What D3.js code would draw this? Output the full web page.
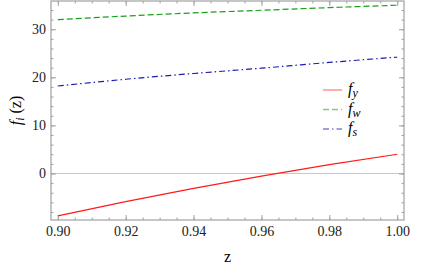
<!DOCTYPE html>
<html>
<head>
<meta charset="utf-8">
<script src="https://cdn.jsdelivr.net/npm/d3@7"></script>
<style>
  body { margin: 0; background: #fff; }
</style>
</head>
<body>
<div id="chart"></div>
<script>
// values
var zs = [0.90, 0.92, 0.94, 0.96, 0.98, 1.00];
var fy = [-8.8, -5.85, -3.1, -0.54, 1.83, 4.0];
var fw = [32.0, 32.75, 33.4, 33.95, 34.5, 35.0];
var fs = [18.2, 19.6, 20.8, 21.9, 23.1, 24.2];
var xTicks = [0.90, 0.92, 0.94, 0.96, 0.98, 1.00];
var yTicks = [0, 10, 20, 30];
var seriesNames = ["y", "w", "s"];

var serif = "Liberation Serif";

var width = 436, height = 273;
var margin = { top: 1, right: 32, bottom: 53, left: 51 };

var svg = d3.select("#chart").append("svg")
    .attr("width", width)
    .attr("height", height)
    .attr("font-family", serif);

var series = [
  { name: "y", vals: fy, color: "#ff1a1a", dash: null },
  { name: "w", vals: fw, color: "#1aa01a", dash: "6,3" },
  { name: "s", vals: fs, color: "#1a1ab4", dash: "6,3,1.5,3" }
];

// 2% padding like the original plot range
var xExt = d3.extent(zs);
var yExt = d3.extent(fy.concat(fw, fs));
var xPad = (xExt[1] - xExt[0]) * 0.02, yPad = (yExt[1] - yExt[0]) * 0.02;

var x = d3.scaleLinear()
    .domain([xExt[0] - xPad, xExt[1] + xPad])
    .range([margin.left, width - margin.right]);
var y = d3.scaleLinear()
    .domain([yExt[0] - yPad, yExt[1] + yPad])
    .range([height - margin.bottom, margin.top]);

var x0 = margin.left, x1 = width - margin.right;
var y0 = height - margin.bottom, y1 = margin.top;

// zero line
svg.append("line")
    .attr("x1", x0).attr("x2", x1)
    .attr("y1", y(0)).attr("y2", y(0))
    .style("stroke", "#c8c8c8")
    .style("stroke-width", 1);

var xMinor = d3.range(0.895, 1.0026, 0.005).filter(function(v){ return v > x.domain()[0]; });
var yMinor = d3.range(-8, 36, 2);

function styleAxis(g) {
  g.attr("font-family", serif).attr("font-size", 14);
  g.selectAll("line").style("stroke", "#a0a0a0");
  g.select(".domain").remove();
  g.selectAll("text").attr("fill", "#222");
}

// bottom
svg.append("g").attr("transform", "translate(0," + y0 + ")")
    .call(d3.axisBottom(x).tickValues(xMinor).tickSize(-2.5).tickFormat(""))
    .call(styleAxis);
svg.append("g").attr("transform", "translate(0," + y0 + ")")
    .call(d3.axisBottom(x).tickValues(xTicks).tickSize(-5).tickPadding(6).tickFormat(d3.format(".2f")))
    .call(styleAxis);
// top
svg.append("g").attr("transform", "translate(0," + y1 + ")")
    .call(d3.axisTop(x).tickValues(xMinor).tickSize(-2.5).tickFormat(""))
    .call(styleAxis);
svg.append("g").attr("transform", "translate(0," + y1 + ")")
    .call(d3.axisTop(x).tickValues(xTicks).tickSize(-5).tickFormat(""))
    .call(styleAxis);
// left
svg.append("g").attr("transform", "translate(" + x0 + ",0)")
    .call(d3.axisLeft(y).tickValues(yMinor).tickSize(-2.5).tickFormat(""))
    .call(styleAxis);
svg.append("g").attr("transform", "translate(" + x0 + ",0)")
    .call(d3.axisLeft(y).tickValues(yTicks).tickSize(-5).tickPadding(5).tickFormat(d3.format("d")))
    .call(styleAxis);
// right
svg.append("g").attr("transform", "translate(" + x1 + ",0)")
    .call(d3.axisRight(y).tickValues(yMinor).tickSize(-2.5).tickFormat(""))
    .call(styleAxis);
svg.append("g").attr("transform", "translate(" + x1 + ",0)")
    .call(d3.axisRight(y).tickValues(yTicks).tickSize(-5).tickFormat(""))
    .call(styleAxis);

// frame
svg.append("rect")
    .attr("x", x0).attr("y", y1)
    .attr("width", x1 - x0).attr("height", y0 - y1)
    .style("fill", "none")
    .style("stroke", "#a0a0a0")
    .style("stroke-width", 1.2);

// curves
var line = d3.line()
    .x(function(d, i){ return x(zs[i]); })
    .y(function(d){ return y(d); })
    .curve(d3.curveMonotoneX);

series.forEach(function(s){
  svg.append("path")
    .datum(s.vals)
    .attr("d", line)
    .style("fill", "none")
    .style("stroke", s.color)
    .style("stroke-width", 1.2)
    .style("stroke-dasharray", s.dash);
});

// legend
var legend = svg.append("g").attr("transform", "translate(323,90)");
series.forEach(function(s, i){
  var row = legend.append("g").attr("transform", "translate(0," + (i * 19.5) + ")");
  row.append("line")
    .attr("x1", 0).attr("x2", 19)
    .style("stroke", s.color)
    .style("stroke-opacity", 0.55)
    .style("stroke-width", 1.3)
    .style("stroke-dasharray", s.dash);
  var t = row.append("text")
    .attr("x", 25).attr("y", 4)
    .attr("font-size", 16);
  t.append("tspan").attr("font-style", "italic").text("f");
  t.append("tspan").attr("dy", 3).attr("font-size", 12).attr("font-style", "italic").text(seriesNames[i]);
});

// axis titles
svg.append("text")
    .attr("x", (x0 + x1) / 2)
    .attr("y", 262)
    .attr("text-anchor", "middle")
    .attr("font-size", 16)
    .text("z");

var yl = svg.append("text")
    .attr("transform", "translate(21," + ((y0 + y1) / 2) + ") rotate(-90)")
    .attr("text-anchor", "middle")
    .attr("font-size", 16);
yl.append("tspan").attr("font-style", "italic").text("f");
yl.append("tspan").attr("dy", 3).attr("font-size", 12).attr("font-style", "italic").text("i");
yl.append("tspan").attr("dy", -3).text(" (z)");
</script>
</body>
</html>
